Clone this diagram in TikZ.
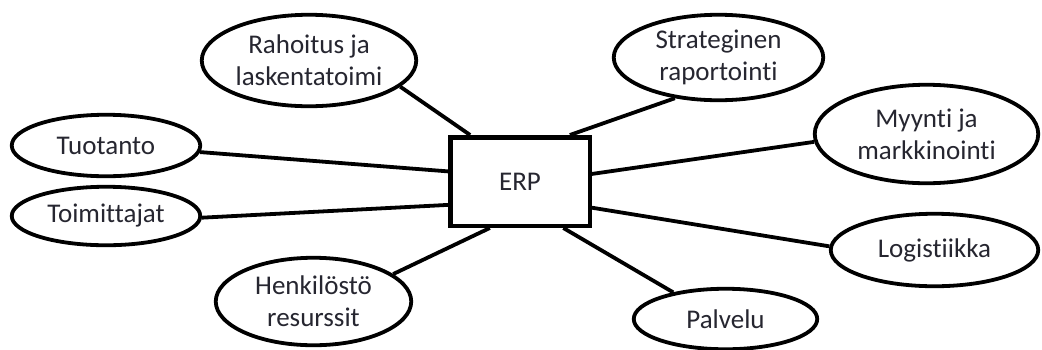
\documentclass[tikz,border=0pt]{standalone}
\usepackage{fontspec}
\setmainfont{Carlito}[Ligatures=NoCommon]
\usepackage{xcolor}
\definecolor{erpink}{RGB}{38,38,48}
\usetikzlibrary{shapes.geometric}

\begin{document}
\begin{tikzpicture}[
  x=1pt, y=-1pt,
  hub/.style={rectangle, draw=black, line width=4.5pt, fill=white,
              minimum width=139.5pt, minimum height=88.5pt, inner sep=0pt,
              font=\fontsize{27}{32}\selectfont, text=erpink},
  oval/.style={ellipse, draw=black, line width=3.8pt, fill=white, inner sep=0pt,
               font=\fontsize{27}{32}\selectfont, align=center, text=erpink},
  link/.style={line width=3.8pt}
]
\useasboundingbox (0,0) rectangle (1042,349);

% Center node
\node[hub] (erp) at (520,181.5) {ERP};

% Spoke nodes
\node[oval, minimum width=214.5pt, minimum height=91.5pt] (rah)   at (309,60.5)
  {Rahoitus ja\\laskentatoimi};
\node[oval, minimum width=209.5pt, minimum height=85.5pt] (strat) at (718.5,57.5)
  {Strateginen\\raportointi};
\node[oval, minimum width=188.5pt, minimum height=61.5pt] (tuot)  at (106,145.5)
  {Tuotanto};
\node[oval, minimum width=188.5pt, minimum height=58.5pt] (toim)  at (106,216)
  {Toimittajat};
\node[oval, minimum width=195.5pt, minimum height=87.5pt] (henk)  at (313.5,301.5)
  {Henkilöstö\\resurssit};
\node[oval, minimum width=183.5pt, minimum height=60.5pt] (palv)  at (725.5,319)
  {Palvelu};
\node[oval, minimum width=223.5pt, minimum height=98.5pt] (myyn)  at (926.5,134)
  {Myynti ja\\markkinointi};
\node[oval, minimum width=207.5pt, minimum height=72.5pt] (logi)  at (934.5,250)
  {Logistiikka};

% Links
\draw[link] (rah.-16)    -- (erp.137);
\draw[link] (strat.223)  -- (erp.43);
\draw[link] (tuot.-4)    -- (erp.172.5);
\draw[link] (toim.-1)    -- (erp.198);
\draw[link] (myyn.184)   -- (erp.6.7);
\draw[link] (logi.178)   -- (erp.340.5);
\draw[link] (henk.19.5)  -- (erp.237);
\draw[link] (palv.153)   -- (erp.313);
\end{tikzpicture}
\end{document}
